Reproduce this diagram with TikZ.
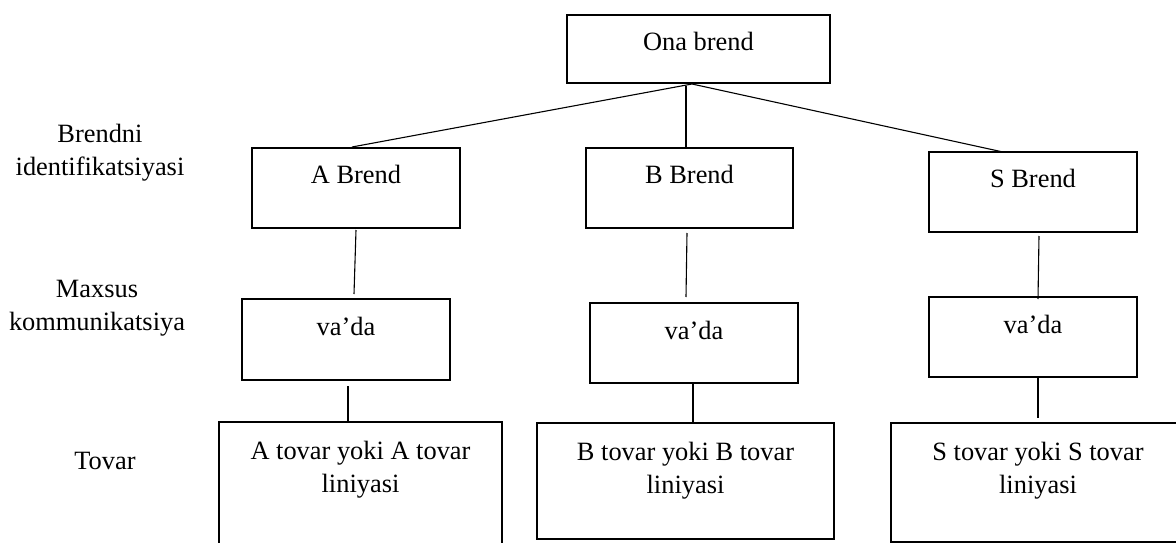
\documentclass[tikz,border=0pt]{standalone}
\usepackage{fontspec}
\setmainfont{Liberation Serif}
\usetikzlibrary{calc}

\tikzset{
  box/.style={draw, line width=2.8pt, rectangle, inner sep=0pt, outer sep=0pt, anchor=north west},
  lab/.style={font=\fontsize{26.4}{33}\selectfont, inner sep=0pt, align=center},
  link/.style={line width=1.1pt}
}

\begin{document}
\begin{tikzpicture}[x=1pt, y=-1pt]
  \useasboundingbox (0,0) rectangle (1176,543);
  \clip (0,0) rectangle (1176,543);

  % top-level brand
  \node[box, minimum width=263pt, minimum height=68pt] (ona) at (567,15) {};
  \node[lab, anchor=base] (onat) at ($(ona.north)+(0,36)$) {Ona brend};

  % brand level
  \node[box, minimum width=208pt, minimum height=80pt] (ab) at (252,148) {};
  \node[box, minimum width=207pt, minimum height=80pt] (bb) at (586,148) {};
  \node[box, minimum width=208pt, minimum height=80pt] (sb) at (929,152) {};
  \node[lab, anchor=base] (abt) at ($(ab.north)+(0,35)$) {A Brend};
  \node[lab, anchor=base] (bbt) at ($(bb.north)+(0,35)$) {B Brend};
  \node[lab, anchor=base] (sbt) at ($(sb.north)+(0,35)$) {S Brend};

  % promise level
  \node[box, minimum width=208pt, minimum height=81pt] (av) at (242,299) {};
  \node[box, minimum width=208pt, minimum height=80pt] (bv) at (590,303) {};
  \node[box, minimum width=208pt, minimum height=80pt] (sv) at (929,297) {};
  \node[lab, anchor=base] (avt) at ($(av.north)+(0,36)$) {va’da};
  \node[lab, anchor=base] (bvt) at ($(bv.north)+(0,36)$) {va’da};
  \node[lab, anchor=base] (svt) at ($(sv.north)+(0,36)$) {va’da};

  % product level (base anchor sits on the last line)
  \node[box, minimum width=283pt, minimum height=130pt] (at) at (219,422) {};
  \node[box, minimum width=297pt, minimum height=116pt] (bt) at (537,423) {};
  \node[box, minimum width=294pt, minimum height=119pt] (st) at (891,423) {};
  \node[lab, anchor=base] (att) at ($(at.north)+(0,70)$) {A tovar yoki A tovar\\liniyasi};
  \node[lab, anchor=base] (btt) at ($(bt.north)+(0,70)$) {B tovar yoki B tovar\\liniyasi};
  \node[lab, anchor=base] (stt) at ($(st.north)+(0,70)$) {S tovar yoki S tovar\\liniyasi};

  % row captions
  \node[lab, anchor=base] (r1) at (100,175) {Brendni\\identifikatsiyasi};
  \node[lab, anchor=base] (r2) at (97,330) {Maxsus\\kommunikatsiya};
  \node[lab, anchor=base] (r3) at (105,469) {Tovar};

  % connector end points
  \coordinate (apex) at (692,84);
  \coordinate (ona-b) at (686,86);
  \coordinate (ab-in) at (352,147);
  \coordinate (bb-in) at (686,148);
  \coordinate (sb-in) at (1003,152);

  \coordinate (ab-out) at (356,230);
  \coordinate (av-in) at (354,294);
  \coordinate (av-out) at (348,386);
  \coordinate (at-in) at (348,422);

  \coordinate (bb-out) at (687,233);
  \coordinate (bv-in) at (686,297);
  \coordinate (bv-out) at (693,383);
  \coordinate (bt-in) at (693,423);

  \coordinate (sb-out) at (1039,236);
  \coordinate (sv-in) at (1038,299);
  \coordinate (sv-out) at (1038,377);
  \coordinate (st-in) at (1038,418);

  % connectors
  \draw[link] (apex) -- (ab-in);
  \draw[link] (ona-b) -- (bb-in);
  \draw[link] (apex) -- (sb-in);

  \draw[link] (ab-out) -- (av-in);
  \draw[link] (av-out) -- (at-in);
  \draw[link] (bb-out) -- (bv-in);
  \draw[link] (bv-out) -- (bt-in);
  \draw[link] (sb-out) -- (sv-in);
  \draw[link] (sv-out) -- (st-in);
\end{tikzpicture}
\end{document}
